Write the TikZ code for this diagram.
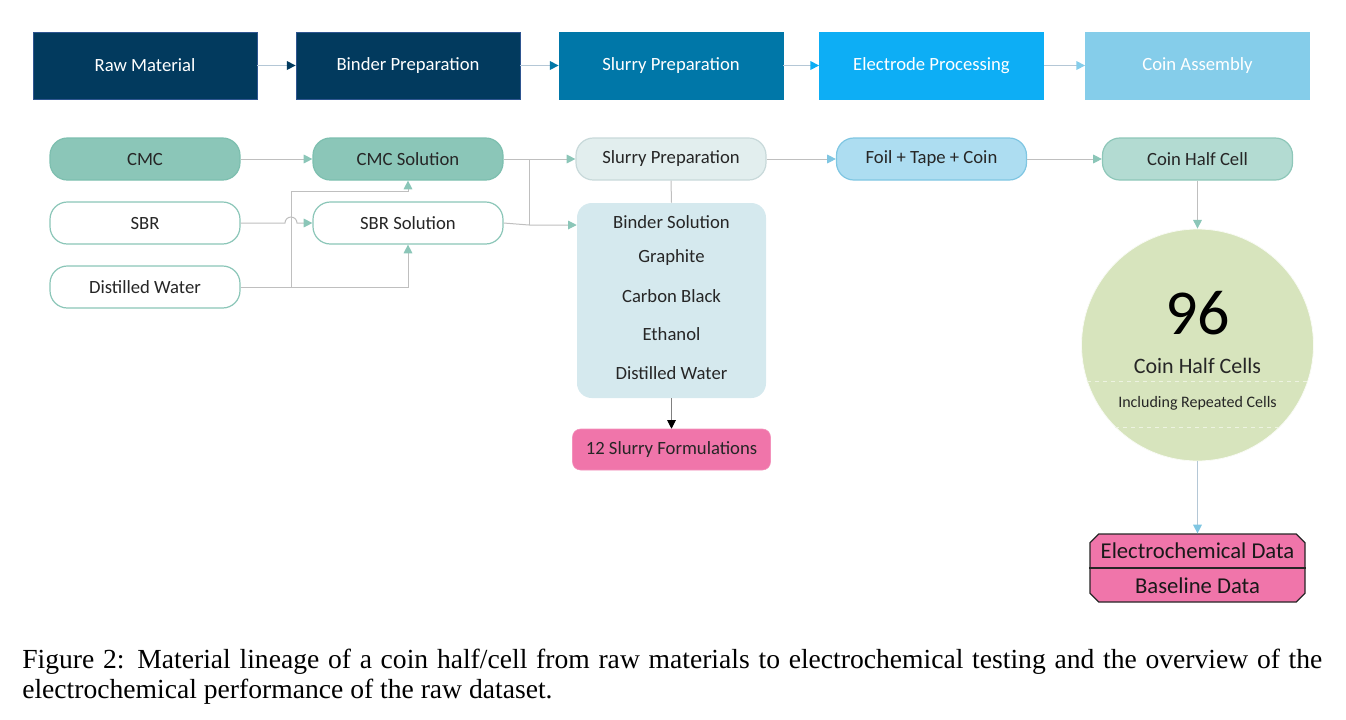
\documentclass[tikz,border=0pt]{standalone}
\usepackage{fontspec}
\setmainfont{Carlito}
\newfontfamily\capfont{Liberation Serif}
\usetikzlibrary{arrows.meta,shapes.misc}
\definecolor{navy}{HTML}{023A5E}
\definecolor{navyb}{HTML}{2E5590}
\definecolor{midblue}{HTML}{0077A8}
\definecolor{brblue}{HTML}{0DAEF5}
\definecolor{ltblue}{HTML}{85CDEA}
\definecolor{tealf}{HTML}{8BC6B8}
\definecolor{tealb}{HTML}{7DBFAF}
\definecolor{spfill}{HTML}{E2EEEE}
\definecolor{spbord}{HTML}{C8D9DA}
\definecolor{foilf}{HTML}{ADDDF1}
\definecolor{foilb}{HTML}{7FC6E2}
\definecolor{chcf}{HTML}{B3DBD2}
\definecolor{chcb}{HTML}{8EC7B9}
\definecolor{boxf}{HTML}{D5E9EE}
\definecolor{pinkf}{HTML}{F075AA}
\definecolor{olive}{HTML}{D7E4BD}
\definecolor{lineg}{HTML}{BFBFBF}
\definecolor{linebl}{HTML}{B4C7D6}
\definecolor{txt}{HTML}{262626}
\tikzset{
  stage/.style={rectangle, draw=navyb, line width=0.6pt, minimum width=168pt, minimum height=50.25pt, text=white, font=\fontsize{14}{16}\selectfont},
  pill/.style={rectangle, rounded corners=13pt, line width=0.9pt, minimum width=142.5pt, minimum height=31.5pt, text=txt, font=\fontsize{14}{16}\selectfont},
  conn/.style={draw=lineg, line width=0.75pt},
  tip/.style={-{Triangle[length=6.5pt,width=6.5pt,color=#1]}},
}
\begin{document}
\begin{tikzpicture}[x=0.75pt,y=-0.75pt]
\useasboundingbox (0,0) rectangle (1346,719);
% stage boxes
\node[stage, fill=navy] (s1) at (145,65.5) {Raw Material};
\node[stage, fill=navy] (s2) at (408,65.5) {Binder Preparation};
\node[stage, fill=midblue, draw=midblue] (s3) at (671,65.5) {Slurry Preparation};
\node[stage, fill=brblue, draw=brblue] (s4) at (931.5,65.5) {Electrode Processing};
\node[stage, fill=ltblue, draw=ltblue] (s5) at (1197.5,65.5) {Coin Assembly};
\draw[draw=linebl, line width=0.9pt, tip=navy] (s1) -- (s2);
\draw[draw=linebl, line width=0.9pt, tip=midblue] (s2) -- (s3);
\draw[draw=linebl, line width=0.9pt, tip=brblue] (s3) -- (s4);
\draw[draw=linebl, line width=0.9pt, tip=ltblue] (s4) -- (s5);
% row pills
\node[pill, fill=tealf, draw=tealb] (cmc) at (145,159) {CMC};
\node[pill, fill=white, draw=tealf] (sbr) at (145,223) {SBR};
\node[pill, fill=white, draw=tealf] (dw) at (145,287) {Distilled Water};
\node[pill, fill=tealf, draw=tealb] (csol) at (408,159) {CMC Solution};
\node[pill, fill=white, draw=tealf] (ssol) at (408,223) {SBR Solution};
\node[pill, fill=spfill, draw=spbord] (sp) at (671,159) {Slurry Preparation};
\node[pill, fill=foilf, draw=foilb] (foil) at (931.5,159) {Foil + Tape + Coin};
\node[pill, fill=chcf, draw=chcb] (chc) at (1197.5,159) {Coin Half Cell};
% big box
\node[rectangle, rounded corners=11pt, fill=boxf, minimum width=141.75pt, minimum height=146.25pt] (box) at (671.5,300.5) {};
\foreach \yy/\tt in {222/Binder Solution,258/Graphite,296/Carbon Black,334/Ethanol,373/Distilled Water}
  \node[text=txt, font=\fontsize{14}{16}\selectfont] at (671.5,\yy) {\tt};
\node[rectangle, rounded corners=6pt, fill=pinkf, draw=pinkf!80!white, minimum width=148.5pt, minimum height=30.75pt, text=txt, font=\fontsize{14}{16}\selectfont] (slf) at (671.5,449.5) {12 Slurry Formulations};
% circle
\node[circle, fill=olive, draw=white!85!olive, line width=0.6pt, minimum size=174pt] (cir) at (1197.5,345) {};
\node[font=\fontsize{48}{50}\selectfont, text=black] (n96) at (1197.5,313) {96};
\node[font=\fontsize{16.5}{18}\selectfont, text=txt] (chcs) at (1197.5,366) {Coin Half Cells};
\node[font=\fontsize{12}{14}\selectfont, text=txt] (incl) at (1197.5,403) {Including Repeated Cells};
\coordinate (d1a) at (1087,381); \coordinate (d1b) at (1308,381);
\coordinate (d2a) at (1115,427); \coordinate (d2b) at (1280,427);
\draw[white!55!olive, dashed, line width=0.6pt] (d1a) -- (d1b);
\draw[white!55!olive, dashed, line width=0.6pt] (d2a) -- (d2b);
% octagon
\node[chamfered rectangle, chamfered rectangle xsep=8pt, fill=pinkf, draw=black!85, line width=0.9pt, minimum width=161.25pt, minimum height=51pt] (oct) at (1197.5,568) {};
\draw[black!85, line width=0.9pt] (oct.west) -- (oct.east);
\node[font=\fontsize{17}{19}\selectfont, text=black!90] (ecd) at (1197.5,551) {Electrochemical Data};
\node[font=\fontsize{17}{19}\selectfont, text=black!90] (bld) at (1197.5,586) {Baseline Data};
% connectors
\draw[conn, tip=tealf] (cmc) -- (csol);
\coordinate (h1) at (285,223);
\draw[conn, tip=tealf] (sbr.east) -- (h1) arc (180:360:6) -- (ssol.west);
\coordinate (j1) at (291,287); \coordinate (j2) at (408,191);
\draw[conn, tip=tealf] (dw.east) -| (ssol.south);
\draw[conn, tip=tealf] (j1) |- (j2) -- (csol.south);
\coordinate (k1) at (529,159); \coordinate (k2) at (529,225);
\draw[conn, tip=tealf] (csol.east) -- (sp.west);
\draw[conn] (k1) -- (k2);
\draw[conn, tip=tealf] (ssol.east) -- (k2) -- (box.west |- k2);
\draw[conn] (sp.south) -- (box.north);
\draw[conn, draw=gray, tip=black] (box.south) -- (slf.north);
\draw[conn, tip=foilb] (sp.east) -- (foil.west);
\draw[conn, tip=tealf] (foil.east) -- (chc.west);
\draw[conn, tip=tealf] (chc.south) -- (cir.north);
\draw[conn, draw=linebl, tip=foilb] (cir.south) -- (oct.north);
% caption
\node[anchor=base west, inner sep=0pt, font=\capfont\fontsize{20.7}{24}\selectfont] (cap1) at (22,668) {\hbox to 975pt{Figure 2: Material lineage of a coin half/cell from raw materials to electrochemical testing and the overview of the}};
\node[anchor=base west, inner sep=0pt, font=\capfont\fontsize{20.7}{24}\selectfont] (cap2) at (22,698) {electrochemical performance of the raw dataset.};
\end{tikzpicture}
\end{document}
